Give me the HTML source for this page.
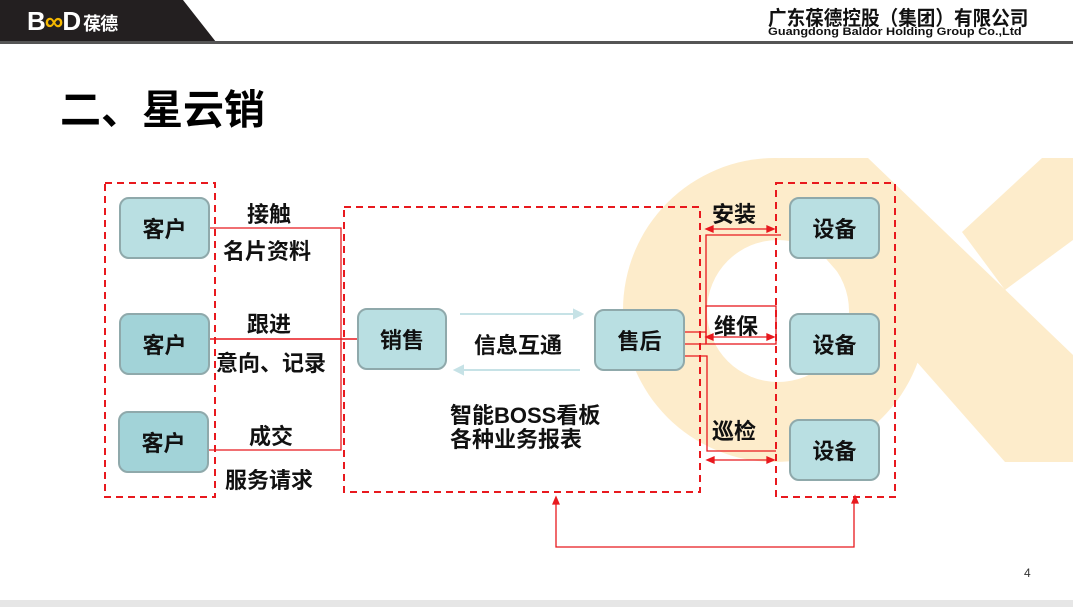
<!DOCTYPE html>
<html><head><meta charset="utf-8"><style>
html,body{margin:0;padding:0;}
body{width:1073px;height:607px;position:relative;overflow:hidden;background:#fff;font-family:"Liberation Sans","Noto Sans CJK SC",sans-serif;}
.t{position:absolute;font-weight:bold;color:#111;white-space:nowrap;font-family:"Liberation Sans","Noto Sans CJK SC",sans-serif;}
.box{position:absolute;border:2.5px solid #8fa9ab;border-radius:10px;background:#b9dfe2;box-sizing:border-box;display:flex;align-items:center;justify-content:center;font-weight:bold;font-size:22px;color:#111;}
</style></head><body>
<svg width="1073" height="607" style="position:absolute;left:0;top:0">
 <g fill="#fdeccb">
  <circle cx="775" cy="310" r="152"/>
 </g>
 <circle cx="778" cy="311" r="71" fill="#fff"/>
 <g fill="#fdeccb">
  <polygon points="780,158 868,158 1073,355 1073,462 1005,462 827,260"/>
  <polygon points="962,232 1042,158 1073,158 1073,240 1005,290"/>
 </g>
 <!-- header -->
 <polygon points="0,0 183,0 216,42 0,42" fill="#231f20"/>
 <rect x="0" y="41" width="1073" height="3" fill="#555"/>
 <rect x="0" y="600" width="1073" height="7" fill="#e6e6e6"/>
 <!-- dashed boxes -->
 <g fill="none" stroke="#e8191e" stroke-width="2" stroke-dasharray="7,5">
  <rect x="105" y="183" width="110" height="314"/>
  <rect x="344" y="207" width="356" height="285"/>
  <rect x="776" y="183" width="119" height="314"/>
 </g>
 <g fill="none" stroke="#e8191e" stroke-width="1.3">
  <polyline points="210,228 341,228 341,450 209,450"/>
  <line x1="210" y1="339" x2="357" y2="339" stroke-width="1.5"/>
  <polyline points="685,332 706,332"/>
  <polyline points="706,344 706,235 781,235"/>
  <rect x="706" y="306" width="70" height="38"/>
  <line x1="685" y1="344" x2="706" y2="344"/>
  <polyline points="685,356 707,356 707,451 776,451"/>
  <polyline points="556,500 556,547 854,547 854,500"/>
 </g>
 <g stroke="#e8191e" stroke-width="1.3" fill="#e8191e">
  <line x1="710" y1="229" x2="770" y2="229"/><polygon points="706,229 713,226 713,232"/><polygon points="774,229 767,226 767,232"/>
  <line x1="710" y1="337" x2="770" y2="337"/><polygon points="706,337 713,334 713,340"/><polygon points="774,337 767,334 767,340"/>
  <line x1="711" y1="460" x2="770" y2="460"/><polygon points="707,460 714,457 714,463"/><polygon points="774,460 767,457 767,463"/>
  <polygon points="556,497 553,504 559,504"/>
  <polygon points="855,496 852,503 858,503"/>
 </g>
 <g stroke="#c6e2e6" stroke-width="2" fill="#c6e2e6">
  <line x1="460" y1="314" x2="576" y2="314"/><polygon points="582,314 574,310 574,318"/>
  <line x1="461" y1="370" x2="580" y2="370"/><polygon points="455,370 463,366 463,374"/>
 </g>
</svg>
<div class="t" style="left:27px;top:6px;font-size:26px;color:#fff;letter-spacing:-1px">B<span style="color:#f5b800">∞</span>D<span style="font-size:18px;margin-left:3px">葆德</span></div>
<div class="t" style="left:768px;top:2px;font-size:20px;color:#111;transform:scaleX(0.93);transform-origin:0 0">广东葆德控股（集团）有限公司</div>
<div class="t" style="left:768px;top:26px;font-size:11px;color:#111;transform:scaleX(1.15);transform-origin:0 0">Guangdong Baldor Holding Group Co.,Ltd</div>
<div class="t" style="left:60px;top:76px;font-size:41px;color:#000">二、星云销</div>

<div class="box" style="left:119px;top:197px;width:91px;height:62px">客户</div>
<div class="box" style="left:119px;top:313px;width:91px;height:62px;background:#a2d3d8">客户</div>
<div class="box" style="left:118px;top:411px;width:91px;height:62px;background:#a2d3d8">客户</div>
<div class="box" style="left:357px;top:308px;width:90px;height:62px">销售</div>
<div class="box" style="left:594px;top:309px;width:91px;height:62px">售后</div>
<div class="box" style="left:789px;top:197px;width:91px;height:62px">设备</div>
<div class="box" style="left:789px;top:313px;width:91px;height:62px">设备</div>
<div class="box" style="left:789px;top:419px;width:91px;height:62px">设备</div>

<div class="t" style="left:247px;top:197px;font-size:22px">接触</div>
<div class="t" style="left:223px;top:234px;font-size:22px">名片资料</div>
<div class="t" style="left:247px;top:307px;font-size:22px">跟进</div>
<div class="t" style="left:216px;top:346px;font-size:22px">意向、记录</div>
<div class="t" style="left:249px;top:419px;font-size:22px">成交</div>
<div class="t" style="left:225px;top:463px;font-size:22px">服务请求</div>
<div class="t" style="left:474px;top:328px;font-size:22px">信息互通</div>
<div class="t" style="left:450px;top:404px;font-size:22px;line-height:24px">智能BOSS看板<br>各种业务报表</div>
<div class="t" style="left:712px;top:197px;font-size:22px">安装</div>
<div class="t" style="left:714px;top:309px;font-size:22px">维保</div>
<div class="t" style="left:712px;top:414px;font-size:22px">巡检</div>
<div class="t" style="left:1024px;top:566px;font-size:12px;font-weight:normal;color:#333">4</div>
</body></html>
